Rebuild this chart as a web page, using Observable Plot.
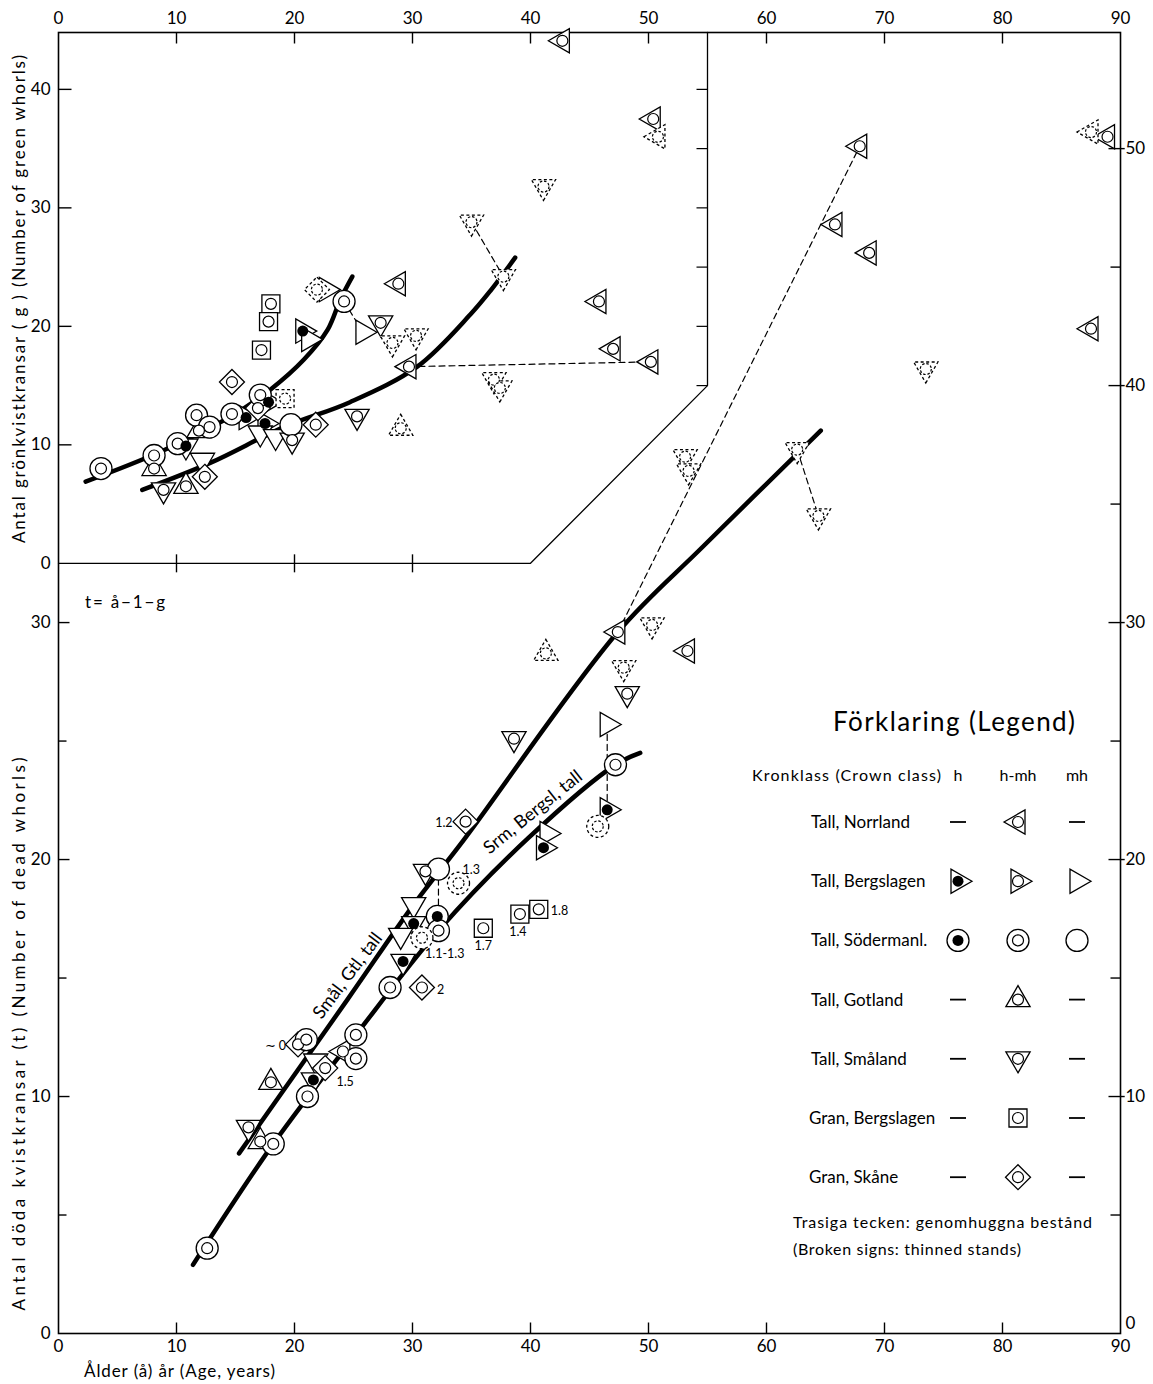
<!DOCTYPE html>
<html lang="sv">
<head>
<meta charset="utf-8">
<title>Antal döda och gröna kvistkransar</title>
<script src="https://cdn.jsdelivr.net/npm/d3@7"></script>
<script src="https://cdn.jsdelivr.net/npm/@observablehq/plot@0.6"></script>
<style>
html,body{margin:0;padding:0;background:#fff;overflow:hidden;}
#wrap{position:relative;width:1153px;height:1384px;}
#wrap svg{display:block;}
.ov{position:absolute;left:0;top:0;pointer-events:none;font-family:Lato,"Open Sans",sans-serif;}
</style>
</head>
<body>
<div id="wrap"></div>
<script>
// ---------------- axes / tick values ----------------
const ageTicks = [0, 10, 20, 30, 40, 50, 60, 70, 80, 90];
const ageInnerTicks = [10, 20, 30, 40, 50, 60, 70, 80];
const deadTicksLeft = [0, 10, 20, 30];
const deadMinorLeft = [5, 15, 25];
const deadTicksRight = [0, 10, 20, 30, 40, 50];
const deadMinorRight = [5, 15, 25, 35, 45];
const greenTicks = [0, 10, 20, 30, 40];
const greenEdgeTicks = [15, 20, 25, 30, 35, 40];
const insetAgeTicks = [10, 20, 30];
const deadMax = 54.9;     // top of the frame, in dead whorls
const greenZero = 32.5;   // inset: 0 green whorls sits at 32.5 dead whorls
const greenUnit = 0.5;    // inset: 1 green whorl = 0.5 dead-whorl units
const toDead = g => greenZero + g * greenUnit;

// inset outline: bottom edge, slanted edge, right edge
const insetOutlineAge = [0, 40, 55, 55];
const insetOutlineY = [toDead(0), toDead(0), 40, deadMax];

// ---------------- inset: age, green whorls, sign, thinned ----------------
const insetPoints = [
  [3.6, 8.0, "SM", 0], [8.1, 9.1, "SM", 0], [8.1, 8.0, "GO", 0], [8.9, 6.2, "SL", 0],
  [10.8, 6.5, "GO", 0], [10.1, 10.1, "SM", 0], [10.8, 9.9, "SLH", 0], [12.2, 8.7, "SLE", 0],
  [11.7, 12.5, "SM", 0], [12.8, 11.5, "SM", 0], [11.9, 11.2, "GO", 0], [12.4, 7.3, "GS", 0],
  [14.7, 12.6, "SM", 0], [14.7, 15.3, "GS", 0], [18.0, 21.9, "GB", 0], [17.8, 20.4, "GB", 0],
  [17.2, 18.0, "GB", 0], [15.9, 12.3, "BH", 0], [17.1, 14.2, "SM", 0], [16.9, 13.1, "GS", 0],
  [17.8, 13.6, "BH", 0], [17.5, 11.8, "BH", 0], [19.2, 13.9, "GB", 1], [17.1, 11.0, "SLE", 0],
  [18.4, 10.7, "SLE", 0], [19.7, 11.7, "SE", 0], [19.8, 10.4, "SL", 0], [21.8, 11.7, "GS", 0],
  [25.3, 12.4, "SL", 0], [29.0, 11.4, "GO", 1], [20.7, 19.6, "BH", 0], [21.2, 18.9, "BE", 0],
  [22.7, 23.1, "BE", 0], [21.9, 23.1, "GS", 1], [24.2, 22.1, "SM", 0], [25.8, 19.5, "BE", 0],
  [27.3, 20.3, "SL", 0], [28.3, 18.6, "SL", 1], [30.3, 19.2, "SL", 1], [29.7, 16.6, "NO", 0],
  [28.8, 23.6, "NO", 0], [42.7, 44.1, "NO", 0], [50.4, 37.5, "NO", 0], [50.8, 36.0, "NO", 1],
  [41.1, 31.8, "SL", 1], [35.0, 28.8, "SL", 1], [37.7, 24.2, "SL", 1], [45.8, 22.1, "NO", 0],
  [47.0, 18.1, "NO", 0], [50.2, 17.0, "NO", 0], [36.9, 15.5, "SL", 1], [37.4, 14.8, "SL", 1]
];

// ---------------- main: age, dead whorls, sign, thinned ----------------
const mainPoints = [
  [67.9, 50.1, "NO", 0], [65.8, 46.8, "NO", 0], [68.7, 45.6, "NO", 0], [87.5, 42.4, "NO", 0],
  [73.5, 40.7, "SL", 1], [87.5, 50.7, "NO", 1], [88.9, 50.5, "NO", 0], [53.1, 37.0, "SL", 1],
  [53.4, 36.4, "SL", 1], [62.6, 37.3, "SL", 1], [64.4, 34.5, "SL", 1], [47.4, 29.6, "NO", 0],
  [50.3, 29.9, "SL", 1], [41.3, 28.7, "GO", 1], [53.3, 28.8, "NO", 0], [47.9, 28.1, "SL", 1],
  [48.2, 27.0, "SL", 0], [46.5, 25.7, "BE", 0], [38.6, 25.1, "SL", 0], [47.2, 24.0, "SM", 0],
  [46.5, 22.1, "BH", 0], [45.7, 21.4, "SM", 1], [34.5, 21.6, "GS", 0], [41.4, 21.1, "BE", 0],
  [41.1, 20.5, "BH", 0], [31.1, 19.5, "SL", 0], [32.2, 19.6, "SE", 0], [33.9, 19.0, "SM", 1],
  [30.1, 18.1, "SLE", 0], [30.1, 17.3, "SLH", 0], [32.1, 17.6, "SH", 0], [32.2, 17.0, "SM", 0],
  [29.0, 16.8, "SLE", 0], [30.8, 16.7, "SM", 1], [29.2, 15.7, "SLH", 0], [28.1, 14.6, "SM", 0],
  [30.8, 14.6, "GS", 0], [36.0, 17.1, "GB", 0], [39.1, 17.7, "GB", 0], [40.7, 17.9, "GB", 0],
  [25.2, 12.6, "SM", 0], [20.3, 12.2, "GS", 0], [21.0, 12.4, "SM", 0], [21.8, 11.5, "SLE", 0],
  [22.6, 11.2, "GS", 0], [24.1, 11.9, "NO", 0], [25.2, 11.6, "SM", 0], [21.6, 10.7, "SLH", 0],
  [21.1, 10.0, "SM", 0], [18.0, 10.6, "GO", 0], [16.1, 8.7, "SL", 0], [17.1, 8.1, "GO", 0],
  [18.2, 8.0, "SM", 0], [12.6, 3.6, "SM", 0]
];

// ---------------- fitted curves ----------------
const insetCurveA = [[2.3, 6.9], [8.6, 9.4], [14.6, 12.4], [18.0, 14.7], [20.8, 17.2], [22.8, 19.7], [23.9, 22.3], [24.9, 24.2]];
const insetCurveB = [[7.1, 6.2], [12.9, 8.5], [19.1, 11.5], [24.7, 13.6], [30.4, 16.6], [34.9, 21.0], [36.6, 23.0], [38.7, 25.8]];
const curveSmal = [[15.3, 7.6], [24.5, 14.1], [30.1, 18.1], [34.3, 20.8], [47.4, 29.6], [54.6, 33.2], [64.6, 38.1]];
const curveSrm = [[11.4, 2.9], [18.2, 8.0], [25.2, 12.6], [32.2, 17.0], [39.8, 20.9], [47.2, 24.0], [49.3, 24.5]];
const curveNames = ["Smål, Gtl, tall", "Srm, Bergsl, tall"];
const curveNameAt = [[24.5, 15.1], [40.2, 22.0]];
const curveNameAngle = [-53, -39];

// dashed links between repeated measurements
const insetLinks = [[[24.2, 22.1], [25.8, 19.5]], [[35.0, 28.8], [37.7, 24.2]], [[29.7, 16.6], [50.2, 17.0]]];
const mainLinks = [[[47.4, 29.6], [67.9, 50.1]], [[62.6, 37.3], [64.4, 34.5]], [[46.5, 25.7], [46.5, 22.1]], [[32.2, 19.6], [32.2, 17.6]]];

// small notes next to points
const pointNotes = [["1.2", 34.5, 21.6], ["1.3", 33.9, 19.0], ["1.1-1.3", 30.8, 16.7], ["1.7", 36.0, 17.1],
  ["1.4", 39.1, 17.7], ["1.8", 40.7, 17.9], ["2", 30.8, 14.6], ["∼ 0", 20.3, 12.2], ["1.5", 21.6, 10.7]];
const noteOffsets = [[-13, 1, "end"], [4, -13, "start"], [3, 16, "start"], [0, 18, "middle"],
  [-2, 18, "middle"], [12, 2, "start"], [15, 2, "start"], [-12, 2, "end"], [23, 2, "start"]];

// legend
const legendNames = ["Tall, Norrland", "Tall, Bergslagen", "Tall, Södermanl.", "Tall, Gotland", "Tall, Småland", "Gran, Bergslagen", "Gran, Skåne"];
const legendCodes = [[null, "NO", null], ["BH", "BM", "BE"], ["SH", "SM", "SE"], [null, "GO", null], [null, "SL", null], [null, "GB", null], [null, "GS", null]];
const crownClasses = ["h", "h-mh", "mh"];

// ---------------- symbols ----------------
const SIN60 = Math.sin(Math.PI / 3);
const mk = f => ({draw(c, size) { f(c, Math.sqrt(size / Math.PI)); }});
const shapes = {
  triL: mk((c, R) => { c.moveTo(-R, 0); c.lineTo(R / 2, -R * SIN60); c.lineTo(R / 2, R * SIN60); c.closePath(); }),
  triR: mk((c, R) => { c.moveTo(R, 0); c.lineTo(-R / 2, -R * SIN60); c.lineTo(-R / 2, R * SIN60); c.closePath(); }),
  triU: mk((c, R) => { c.moveTo(0, -R); c.lineTo(R * SIN60, R / 2); c.lineTo(-R * SIN60, R / 2); c.closePath(); }),
  triD: mk((c, R) => { c.moveTo(0, R); c.lineTo(R * SIN60, -R / 2); c.lineTo(-R * SIN60, -R / 2); c.closePath(); }),
  square: mk((c, R) => { c.rect(-R, -R, 2 * R, 2 * R); }),
  diamond: mk((c, R) => { c.moveTo(0, -R); c.lineTo(R, 0); c.lineTo(0, R); c.lineTo(-R, 0); c.closePath(); }),
  circle: mk((c, R) => { c.moveTo(R, 0); c.arc(0, 0, R, 0, 2 * Math.PI); })
};
const shapeR = {triL: 14, triR: 14, triU: 14, triD: 14, square: 9, diamond: 12.5, circle: 11};
const symDef = {
  NO: ["triL", "ring"], BH: ["triR", "dot"], BM: ["triR", "ring"], BE: ["triR", null],
  SH: ["circle", "dot"], SM: ["circle", "ring"], SE: ["circle", null],
  GO: ["triU", "ring"], SL: ["triD", "ring"], SLE: ["triD", null], SLH: ["triD", "dot"],
  GB: ["square", "ring"], GS: ["diamond", "ring"]
};
const tickUp = mk((c, R) => { c.moveTo(0, 0); c.lineTo(0, -R); });
const tickDown = mk((c, R) => { c.moveTo(0, 0); c.lineTo(0, R); });
const tickRight = mk((c, R) => { c.moveTo(0, 0); c.lineTo(R, 0); });
const tickLeft = mk((c, R) => { c.moveTo(0, 0); c.lineTo(-R, 0); });
const tickLeftCross = mk((c, R) => { c.moveTo(-R, 0); c.lineTo(R * 0.35, 0); });
const tickCross = mk((c, R) => { c.moveTo(0, -R); c.lineTo(0, R); });

// ---------------- build ----------------
const rows = [
  ...insetPoints.map(([a, g, c, t]) => ({a, y: toDead(g), c, t})),
  ...mainPoints.map(([a, d, c, t]) => ({a, y: d, c, t}))
];
const asLine = (pts, conv) => pts.map(([a, v]) => ({a, y: conv ? conv(v) : v}));
const linkRows = [
  ...insetLinks.flatMap((l, i) => l.map(([a, g]) => ({a, y: toDead(g), k: "i" + i}))),
  ...mainLinks.flatMap((l, i) => l.map(([a, d]) => ({a, y: d, k: "m" + i})))
];

function markerMarks(data) {
  const out = [];
  for (const shp of Object.keys(shapeR)) for (const t of [0, 1]) {
    const d = data.filter(p => symDef[p.c][0] === shp && p.t === t);
    if (d.length) out.push(Plot.dot(d, {x: "a", y: "y", symbol: shapes[shp], r: shapeR[shp], fill: "white",
      stroke: "black", strokeWidth: 1.3, strokeDasharray: t ? "3,2.5" : null}));
  }
  for (const t of [0, 1]) {
    const d = data.filter(p => symDef[p.c][1] === "ring" && p.t === t);
    if (d.length) out.push(Plot.dot(d, {x: "a", y: "y", r: 5.5, fill: "white", stroke: "black",
      strokeWidth: 1.2, strokeDasharray: t ? "2.5,1.8" : null}));
  }
  out.push(Plot.dot(data.filter(p => symDef[p.c][1] === "dot"), {x: "a", y: "y", r: 5.5, fill: "black", stroke: "none"}));
  return out;
}

const tickMarks = (vals, yf, xf, sym, r, sw) =>
  Plot.dot(vals, {x: xf, y: yf, symbol: sym, r, fill: "none", stroke: "black", strokeWidth: sw ?? 1.4});

const chart = Plot.plot({
  width: 1153, height: 1384,
  marginLeft: 58, marginRight: 33, marginTop: 32, marginBottom: 51,
  x: {domain: [0, 90]},
  y: {domain: [0, deadMax]},
  style: {fontFamily: "Lato, 'Open Sans', sans-serif", fontSize: "17px", color: "black", background: "white"},
  marks: [
    Plot.frame({stroke: "black", strokeWidth: 1.6}),
    Plot.line(insetOutlineAge.map((a, i) => ({a, y: insetOutlineY[i]})), {x: "a", y: "y", stroke: "black", strokeWidth: 1.3}),
    // ticks
    tickMarks(ageInnerTicks, () => 0, d => d, tickUp, 11),
    tickMarks(ageInnerTicks, () => deadMax, d => d, tickDown, 11),
    tickMarks(deadTicksLeft.slice(1), d => d, () => 0, tickRight, 11),
    tickMarks(deadMinorLeft, d => d, () => 0, tickRight, 8),
    tickMarks(greenTicks.slice(1), g => toDead(g), () => 0, tickRight, 13),
    tickMarks(deadTicksRight.slice(1), d => d, () => 90, tickLeftCross, 12),
    tickMarks(deadMinorRight, d => d, () => 90, tickLeft, 10),
    tickMarks(insetAgeTicks, () => toDead(0), d => d, tickCross, 9),
    tickMarks(greenEdgeTicks, g => toDead(g), () => 55, tickLeft, 11, 1.2),
    // fitted curves
    Plot.line(asLine(insetCurveA, toDead), {x: "a", y: "y", curve: "catmull-rom", stroke: "black", strokeWidth: 4.5}),
    Plot.line(asLine(insetCurveB, toDead), {x: "a", y: "y", curve: "catmull-rom", stroke: "black", strokeWidth: 4.5}),
    Plot.line(asLine(curveSmal), {x: "a", y: "y", curve: "catmull-rom", stroke: "black", strokeWidth: 4.5}),
    Plot.line(asLine(curveSrm), {x: "a", y: "y", curve: "catmull-rom", stroke: "black", strokeWidth: 4.5}),
    // dashed links
    Plot.line(linkRows, {x: "a", y: "y", z: "k", stroke: "black", strokeWidth: 1.2, strokeDasharray: "6,4"}),
    // signs
    ...markerMarks(rows),
    // notes
    ...pointNotes.map(([t, a, d], i) => Plot.text([{t, a, d}], {x: "a", y: "d", text: "t",
      dx: noteOffsets[i][0], dy: noteOffsets[i][1], textAnchor: noteOffsets[i][2], fontSize: 12.5, fill: "black"})),
    ...curveNames.map((t, i) => Plot.text([{t, a: curveNameAt[i][0], d: curveNameAt[i][1]}],
      {x: "a", y: "d", text: "t", rotate: curveNameAngle[i], fontSize: 18, fill: "black"})),
    // axis labels
    Plot.axisX(ageTicks, {anchor: "bottom", tickSize: 0, tickPadding: 6, label: null, fontSize: 17}),
    Plot.axisX(ageTicks, {anchor: "top", tickSize: 0, tickPadding: 9, label: null, fontSize: 17}),
    Plot.axisY(deadTicksLeft, {anchor: "left", tickSize: 0, tickPadding: 8, label: null, fontSize: 17}),
    Plot.axisY(greenTicks.map(toDead), {anchor: "left", tickSize: 0, tickPadding: 8, label: null, fontSize: 17,
      tickFormat: d => String(Math.round((d - greenZero) / greenUnit))}),
    Plot.axisY(deadTicksRight.slice(1), {anchor: "right", tickSize: 0, tickPadding: 5, label: null, fontSize: 17}),
    Plot.axisY(deadTicksRight.slice(0, 1), {anchor: "right", tickSize: 0, tickPadding: 5, dy: -10, label: null, fontSize: 17})
  ]
});
document.getElementById("wrap").appendChild(chart);

// ---------------- overlay: titles and legend ----------------
const ov = d3.select("#wrap").append("svg").attr("class", "ov").attr("width", 1153).attr("height", 1384);
const txt = (x, y, s, size, opts = {}) => {
  const t = ov.append("text").attr("x", x).attr("y", y).attr("font-size", size).attr("fill", "black").text(s);
  if (opts.anchor) t.attr("text-anchor", opts.anchor);
  if (opts.len) t.attr("textLength", opts.len).attr("lengthAdjust", "spacing");
  if (opts.rotate) t.attr("transform", `rotate(${opts.rotate},${x},${y})`);
  return t;
};
txt(25, 1034, "Antal döda kvistkransar (t) (Number of dead whorls)", 17, {anchor: "middle", len: 553, rotate: -90});
txt(25, 299, "Antal  grönkvistkransar  ( g )  (Number of green whorls)", 17, {anchor: "middle", len: 488, rotate: -90});
txt(84, 1377, "Ålder (å) år (Age, years)", 17, {len: 191});
txt(85, 608, "t= å−1−g", 17, {len: 80});

txt(954, 731, "Förklaring (Legend)", 26, {anchor: "middle", len: 242});
txt(752, 781, "Kronklass (Crown class)", 16, {len: 189});
const colX = [958, 1018, 1077];
crownClasses.forEach((c, i) => txt(colX[i], 781, c, 16, {anchor: "middle"}));

function drawSign(g, code, cx, cy) {
  const [shp, inner] = symDef[code];
  const r = shapeR[shp];
  g.append("path").attr("d", d3.symbol().type(shapes[shp]).size(r * r * Math.PI)())
    .attr("transform", `translate(${cx},${cy})`).attr("fill", "white").attr("stroke", "black").attr("stroke-width", 1.3);
  if (inner === "ring") g.append("circle").attr("cx", cx).attr("cy", cy).attr("r", 5.5).attr("fill", "white").attr("stroke", "black").attr("stroke-width", 1.2);
  if (inner === "dot") g.append("circle").attr("cx", cx).attr("cy", cy).attr("r", 5.5).attr("fill", "black");
}
legendNames.forEach((name, i) => {
  const cy = 822 + i * 59.2;
  txt(name.startsWith("Gran") ? 809 : 811, cy + 6, name, 17);
  legendCodes[i].forEach((code, j) => {
    if (code) drawSign(ov, code, colX[j], cy);
    else ov.append("line").attr("x1", colX[j] - 8).attr("x2", colX[j] + 8).attr("y1", cy).attr("y2", cy)
      .attr("stroke", "black").attr("stroke-width", 1.8);
  });
});
txt(793, 1228, "Trasiga tecken: genomhuggna bestånd", 16, {len: 299});
txt(793, 1255, "(Broken signs: thinned stands)", 16, {len: 228});
</script>
</body>
</html>
